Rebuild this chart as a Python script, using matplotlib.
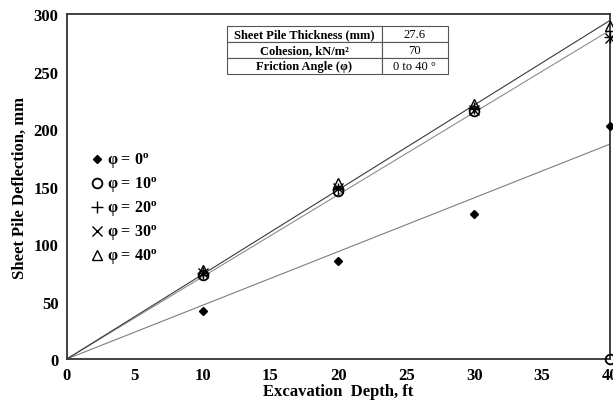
import numpy as np
import matplotlib
matplotlib.use('Agg')
import matplotlib.pyplot as plt

plt.rcParams['font.family'] = ['Liberation Serif', 'DejaVu Serif']
plt.rcParams['mathtext.fontset'] = 'stix'

# 数据
depth = np.array([0, 10, 20, 30, 40])
phi_labels = ['0', '10', '20', '30', '40']
defl_phi0 = np.array([0, 42, 85, 126, 203])
defl_phi10 = np.array([0, 73, 146, 216, 0])
defl_phi20 = np.array([0, 75, 148, 218, 280])
defl_phi30 = np.array([0, 75, 149, 217, 279])
defl_phi40 = np.array([0, 77, 153, 222, 290])

table_rows = ['Sheet Pile Thickness (mm)', 'Cohesion, kN/m²', 'Friction Angle (φ)']
table_vals = ['27.6', '70', '0 to 40 °']

fig = plt.figure(figsize=(6.13, 4.10), dpi=100)
ax = fig.add_axes([0.109, 0.122, 0.886, 0.841])

# 通过原点的线性趋势线
def trend(y, color):
    k = np.sum(depth * y) / np.sum(depth ** 2)
    xs = np.array([0, 40])
    ax.plot(xs, k * xs, color=color, linewidth=0.8, zorder=1)

trend(defl_phi0, '#7f7f7f')
trend(defl_phi20, '#8c8c8c')
trend(defl_phi40, '#3a3a3a')

series = [
    (defl_phi0, dict(marker='D', ms=4.5, mfc='black', mec='black')),
    (defl_phi10, dict(marker='o', ms=7, mfc='none', mec='black', mew=1.3)),
    (defl_phi20, dict(marker='+', ms=8, mec='black', mew=1.0)),
    (defl_phi30, dict(marker='x', ms=7, mec='black', mew=1.0)),
    (defl_phi40, dict(marker='^', ms=7, mfc='none', mec='black', mew=1.0)),
]
for (y, style), lab in zip(series, phi_labels):
    ax.plot(depth[1:], y[1:], linestyle='none', clip_on=False, zorder=3,
            label='φ = ' + lab + r'$^\mathregular{o}$', **style)

ax.set_xlim(0, 40)
ax.set_ylim(0, 300)
ax.set_xticks(np.arange(0, 41, 5))
ax.set_yticks(np.arange(0, 301, 50))
for lbl in ax.get_xticklabels() + ax.get_yticklabels():
    lbl.set_fontweight('bold')
    lbl.set_fontsize(12)
ax.tick_params(length=0, pad=6)
for s in ax.spines.values():
    s.set_linewidth(1.3)
    s.set_color('#333333')

ax.set_xlabel('Excavation  Depth, ft', fontsize=12, fontweight='bold', labelpad=0)
ax.set_ylabel('Sheet Pile Deflection, mm', fontsize=12, fontweight='bold', labelpad=4)

leg = ax.legend(loc='upper left', bbox_to_anchor=(0.02, 0.645), frameon=False,
                handlelength=0.6, handletextpad=0.35, labelspacing=0.3,
                prop=dict(weight='bold', size=11.5))

tbl = ax.table(cellText=[[r, v] for r, v in zip(table_rows, table_vals)],
               colWidths=[0.70, 0.30], cellLoc='center',
               bbox=[0.295, 0.826, 0.407, 0.139])
tbl.auto_set_font_size(False)
for (r, c), cell in tbl.get_celld().items():
    cell.set_edgecolor('#555555')
    cell.set_linewidth(0.8)
    cell.get_text().set_fontsize(9)
    if c == 0:
        cell.get_text().set_fontweight('bold')

fig.savefig('out.png', dpi=100)
